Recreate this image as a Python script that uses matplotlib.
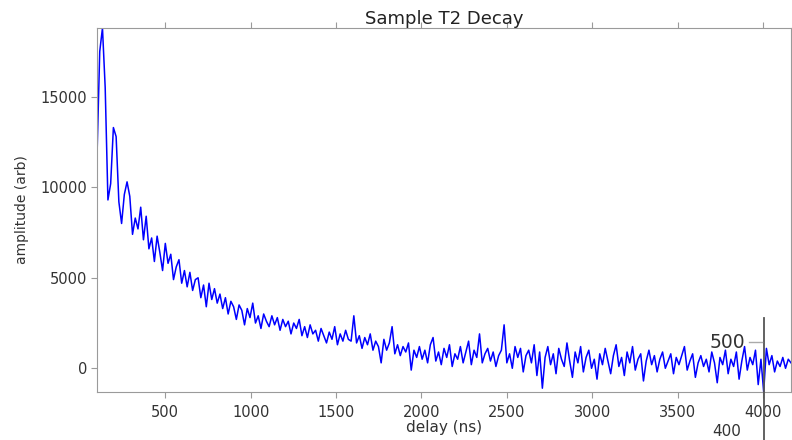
import matplotlib
matplotlib.use("Agg")
import matplotlib.pyplot as plt
import numpy as np
from matplotlib.lines import Line2D

# --- data (delay step 16 ns, starting at 100 ns) ---
amplitude = [
    11700, 17500, 18800, 15500, 9300, 10200, 13300, 12800, 9200, 8000,
    9600, 10300, 9500, 7400, 8300, 7700, 8900, 7100, 8400, 6600,
    7200, 5900, 7300, 6400, 5400, 6900, 5800, 6300, 4900, 5600,
    6000, 4700, 5400, 4500, 5300, 4300, 4900, 5000, 3900, 4600,
    3400, 4700, 3800, 4400, 3600, 4100, 3300, 3900, 3000, 3700,
    3400, 2700, 3500, 3200, 2400, 3300, 2800, 3600, 2500, 2900,
    2200, 3000, 2600, 2300, 2900, 2400, 2800, 2100, 2700, 2300,
    2600, 1900, 2500, 2200, 2700, 1800, 2300, 1700, 2400, 1900,
    2100, 1500, 2200, 1800, 1400, 2000, 1600, 2300, 1300, 1900,
    1500, 2100, 1600, 1500, 2900, 1400, 1800, 1100, 1700, 1300,
    1900, 1000, 1500, 1200, 300, 1600, 1000, 1400, 2300, 800,
    1300, 700, 1200, 900, 1400, -100, 1000, 600, 1200, 500,
    1000, 300, 1300, 1700, 400, 900, 200, 1100, 600, 1300,
    100, 800, 500, 1200, 300, 900, 1500, 200, 1000, 600,
    1900, 300, 800, 1100, 400, 900, 100, 700, 1000, 2400,
    300, 800, 0, 1200, 600, 1100, -200, 700, 1000, 300,
    1300, -400, 900, -1100, 600, 1200, 200, 800, -300, 1100,
    500, 100, 1400, 400, -500, 900, 300, 1200, -200, 600,
    1000, 0, 500, -600, 800, 200, 1100, 400, -300, 700,
    1300, 100, 600, -400, 900, 300, 1200, -100, 500, 800,
    -700, 400, 1000, 200, 700, -200, 500, 900, 0, 400,
    800, -300, 600, 200, 700, 1200, -100, 400, 800, -500,
    300, 700, 100, 500, -200, 900, 300, -800, 600, 200,
    1000, -300, 500, 100, 900, -600, 400, 1200, -100, 600,
    200, 1000, -900, 500, -1300, 1100, 200, 700, -200, 400,
    100, 600, 0, 500, 300,
]
delay = np.arange(100, 100 + 16 * len(amplitude), 16)

xticks = [500, 1000, 1500, 2000, 2500, 3000, 3500, 4000]
yticks = [0, 5000, 10000, 15000]

fig = plt.figure(figsize=(7.92, 4.4), dpi=100)
ax = fig.add_axes([97 / 792, 48 / 440, 694 / 792, 364 / 440])

ax.plot(delay, amplitude, color="blue", linewidth=1.1)

ax.set_xlim(100, 4164)
ax.set_ylim(-1310, 18800)
ax.set_xticks(xticks)
ax.set_yticks(yticks)

grey = "#9a9a9a"
for side in ax.spines.values():
    side.set_color(grey)
ax.tick_params(axis="x", which="both", top=True, bottom=True, direction="out",
               length=4, color=grey, labelcolor="#333333", labelsize=10.5, pad=5)
ax.tick_params(axis="y", direction="out", length=4, color=grey,
               labelcolor="#333333", labelsize=10.5, pad=3)

ax.set_title("Sample T2 Decay", fontsize=13, color="#222222", pad=3)
ax.set_xlabel("delay (ns)", fontsize=11, color="#333333", labelpad=0)
ax.set_ylabel("amplitude (arb)", fontsize=10, color="#333333", labelpad=8)

# stray axis fragment overlapping the bottom-right corner
fig.add_artist(Line2D([764 / 792, 764 / 792], [0, (440 - 318) / 440],
                      transform=fig.transFigure, color="#555555", linewidth=1.3))
fig.add_artist(Line2D([749 / 792, 762 / 792], [(440 - 342) / 440] * 2,
                      transform=fig.transFigure, color="#aaaaaa", linewidth=1.0))
fig.text(727 / 792, (440 - 342) / 440, "500", fontsize=13.5, color="#333333",
         ha="center", va="center")
fig.text(727 / 792, 1 / 440, "400", fontsize=11, color="#333333",
         ha="center", va="bottom")

fig.savefig("out.png", dpi=100)
